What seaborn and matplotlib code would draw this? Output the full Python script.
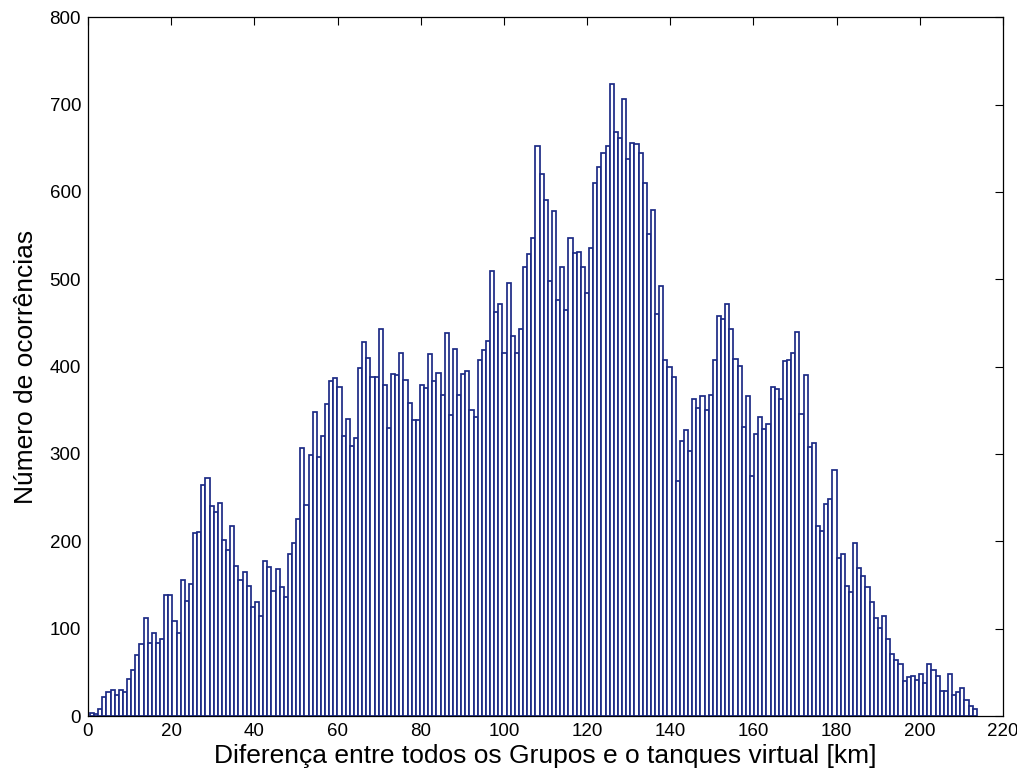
import numpy as np
import pandas as pd
import matplotlib
matplotlib.use("Agg")
import matplotlib.pyplot as plt
import seaborn as sns

# Histogram counts (one value per bin, left to right)
counts = [
    4, 2, 8, 22, 27, 30, 24, 30, 27, 42,
    53, 70, 82, 112, 84, 95, 84, 88, 138, 138,
    109, 95, 156, 132, 151, 209, 211, 264, 273, 240,
    234, 244, 202, 190, 218, 172, 156, 165, 149, 125,
    130, 115, 178, 171, 143, 168, 148, 136, 185, 198,
    226, 307, 242, 299, 348, 297, 320, 357, 384, 387,
    377, 320, 340, 309, 318, 398, 428, 410, 388, 388,
    443, 379, 330, 392, 390, 416, 385, 358, 339, 339,
    379, 376, 414, 383, 393, 367, 439, 345, 420, 367,
    391, 395, 350, 342, 408, 419, 429, 510, 463, 472,
    415, 496, 435, 415, 443, 514, 529, 547, 653, 621,
    591, 498, 578, 476, 514, 465, 547, 530, 531, 514,
    484, 536, 610, 628, 644, 653, 723, 669, 662, 706,
    638, 656, 655, 645, 610, 552, 579, 460, 492, 408,
    399, 388, 269, 315, 327, 303, 363, 353, 366, 350,
    367, 408, 458, 454, 472, 443, 409, 401, 331, 366,
    275, 323, 342, 329, 334, 377, 374, 363, 406, 408,
    416, 440, 346, 390, 308, 313, 217, 212, 243, 249,
    282, 181, 186, 149, 142, 198, 169, 160, 148, 131,
    112, 101, 115, 88, 71, 64, 60, 40, 45, 46,
    41, 48, 38, 59, 53, 46, 29, 29, 48, 24,
    27, 32, 18, 11, 8,
]
bin_start = 0.48      # km, left edge of first bin
bin_end = 213.7       # km, right edge of last bin

x_ticks = list(range(0, 221, 20))
y_ticks = list(range(0, 801, 100))
x_label = "Diferença entre todos os Grupos e o tanques virtual [km]"
y_label = "Número de ocorrências"

n = len(counts)
bw = (bin_end - bin_start) / n
centers = bin_start + bw * (np.arange(n) + 0.5)
df = pd.DataFrame({"dist": centers, "count": np.asarray(counts, dtype=float)})

sns.set_theme(style="white")
plt.rcParams["font.family"] = ["Liberation Sans", "DejaVu Sans"]

fig = plt.figure(figsize=(10.17, 7.8), dpi=100)
ax = fig.add_axes([0.0865, 0.082, 0.8997, 0.896])

sns.histplot(data=df, x="dist", weights="count", binwidth=bw,
             binrange=(bin_start, bin_end), ax=ax,
             color="white", edgecolor="#1c2a85", linewidth=1.25, alpha=1.0)

ax.set_xlim(0, 220)
ax.set_ylim(0, 800)
ax.set_xticks(x_ticks)
ax.set_yticks(y_ticks)
ax.tick_params(axis="both", direction="in", length=6, width=0.8,
               top=True, right=True, labelsize=13.5, colors="black", pad=5)
for s in ax.spines.values():
    s.set_visible(True)
    s.set_color("black")
    s.set_linewidth(0.9)
ax.set_xlabel(x_label, fontsize=19, color="black", labelpad=3)
ax.set_ylabel(y_label, fontsize=19, color="black", labelpad=8)

fig.savefig("out.png", dpi=100, facecolor="white")
